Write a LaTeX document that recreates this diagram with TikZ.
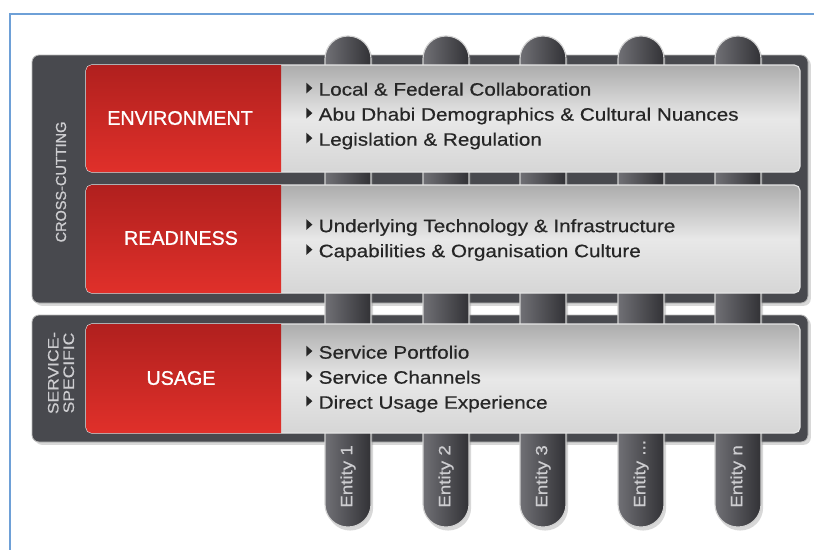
\documentclass[tikz,border=0pt]{standalone}
\usepackage{fontspec}
\setmainfont{Liberation Sans}
\newfontfamily\widefont[FakeStretch=1.15, FakeBold=0.5]{Liberation Sans}
\newfontfamily\headfont[FakeBold=1]{Liberation Sans}
\usepackage{tikz}
\usetikzlibrary{positioning}
\usetikzlibrary{shadows}

\definecolor{frameblue}{RGB}{110,160,215}
\definecolor{paneldark}{RGB}{72,73,78}
\definecolor{pillarlight}{RGB}{112,112,117}
\definecolor{pillardark}{RGB}{50,50,54}
\definecolor{rowtop}{RGB}{172,172,172}
\definecolor{rowmid}{RGB}{232,232,232}
\definecolor{rowbot}{RGB}{214,214,214}
\definecolor{redtop}{RGB}{176,32,30}
\definecolor{redbot}{RGB}{224,48,42}
\definecolor{textdark}{RGB}{38,38,38}
\definecolor{sidegray}{RGB}{205,205,208}

\tikzset{
  panel/.style={fill=paneldark, draw=gray!55, line width=0.6pt, rounded corners=5pt,
    drop shadow={shadow xshift=2pt, shadow yshift=-2pt, opacity=0.3}},
  pillar/.style={left color=pillarlight, right color=pillardark, draw=gray!35,
    line width=0.8pt, rounded corners=0.57cm},
  rowbox/.style={top color=rowtop, bottom color=rowbot, middle color=rowmid,
    draw=gray!20, line width=0.8pt, rounded corners=4pt},
  redbox/.style={top color=redtop, bottom color=redbot},
  labeltext/.style={text=white, font=\headfont\fontsize{14}{16}\selectfont},
  itemtext/.style={text=textdark, align=left, anchor=west, inner sep=0pt,
    font=\widefont\fontsize{12.8}{17.8}\selectfont},
  sidetext/.style={text=sidegray, rotate=90, align=center,
    font=\headfont\fontsize{10.3}{10.8}\selectfont},
  entitytext/.style={text=sidegray, rotate=90, anchor=west, inner sep=0pt,
    font=\widefont\fontsize{11.6}{12}\selectfont},
}
\newcommand{\tri}{\tikz[baseline]\fill[textdark] (0,0.12em) -- (0,0.72em) -- (0.34em,0.42em) -- cycle;\hspace{0.35em}}

\begin{document}
\begin{tikzpicture}[x=0.025cm, y=-0.025cm]
  \useasboundingbox (0,0) rectangle (814,549);
  \clip (0,0) rectangle (814,549);
  \fill[white] (0,0) rectangle (814,549);
  \draw[frameblue, line width=1.3pt] (10,14) rectangle (840,580);

  % the two panels
  \path[panel] (32,55) rectangle (808,303);
  \path[panel] (32,315) rectangle (808,442);

  % pillars
  \foreach \x in {348,446,543,641,738}
    \path[pillar, drop shadow={shadow xshift=1.5pt, shadow yshift=-2.5pt, opacity=0.3}]
      (\x-23,36) rectangle (\x+23,527);

  % rows
  \path[rowbox] (86,65) rectangle (800,172);
  \path[rowbox] (86,185) rectangle (800,293);
  \path[rowbox] (86,324) rectangle (800,433);
  \path[redbox] (281,172) -- (281,65) [rounded corners=4pt] -- (86,65) -- (86,172) [sharp corners] -- cycle;
  \path[redbox] (281,293) -- (281,185) [rounded corners=4pt] -- (86,185) -- (86,293) [sharp corners] -- cycle;
  \path[redbox] (281,433) -- (281,324) [rounded corners=4pt] -- (86,324) -- (86,433) [sharp corners] -- cycle;

  \node[labeltext] (env) at (180,118) {ENVIRONMENT};
  \node[labeltext] (ready) at (181,238) {READINESS};
  \node[labeltext] (usage) at (181,378) {USAGE};

  \node[itemtext] (envlist) at (306,116) {\tri Local \& Federal Collaboration\\
    \tri Abu Dhabi Demographics \& Cultural Nuances\\
    \tri Legislation \& Regulation};
  \node[itemtext] (readylist) at (306,240) {\tri Underlying Technology \& Infrastructure\\
    \tri Capabilities \& Organisation Culture};
  \node[itemtext] (usagelist) at (306,379) {\tri Service Portfolio\\
    \tri Service Channels\\
    \tri Direct Usage Experience};

  \node[sidetext] (cross) at (61,182) {CROSS-CUTTING};
  \node[sidetext, font=\widefont\fontsize{10.8}{11}\selectfont] (service) at (61,373) {SERVICE-\\SPECIFIC};

  \node[entitytext] (ent1) at (348,508) {Entity 1};
  \node[entitytext] (ent2) at (446,508) {Entity 2};
  \node[entitytext] (ent3) at (543,508) {Entity 3};
  \node[entitytext] (ent4) at (641,508) {Entity ...};
  \node[entitytext] (entn) at (738,508) {Entity n};
\end{tikzpicture}
\end{document}
